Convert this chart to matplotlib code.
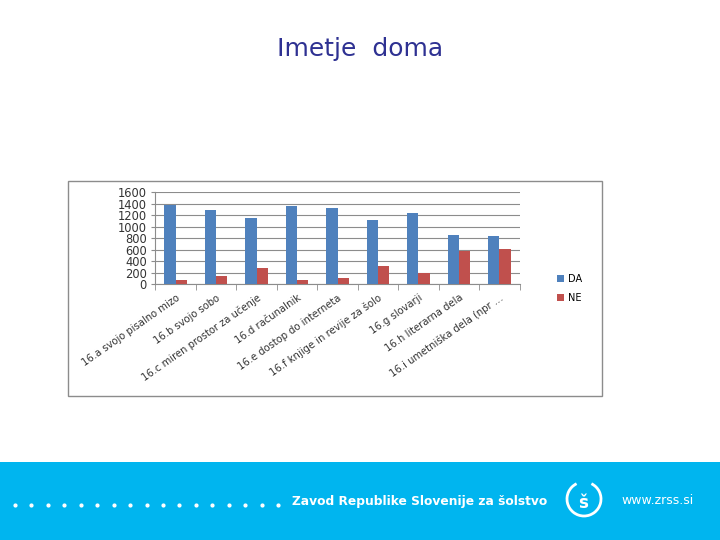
import numpy as np
import matplotlib.pyplot as plt
from matplotlib.patches import Rectangle, Arc

# podatki
categories = [
    "16.a svojo pisalno mizo",
    "16.b svojo sobo",
    "16.c miren prostor za učenje",
    "16.d računalnik",
    "16.e dostop do interneta",
    "16.f knjige in revije za šolo",
    "16.g slovarji",
    "16.h literarna dela",
    "16.i umetniška dela (npr …",
]
da_values = [1380, 1293, 1150, 1362, 1328, 1120, 1241, 858, 841]
ne_values = [81, 145, 284, 81, 110, 319, 197, 580, 614]
y_ticks = [0, 200, 400, 600, 800, 1000, 1200, 1400, 1600]

W, H = 720, 540
fig = plt.figure(figsize=(7.2, 5.4), dpi=100)
fig.patch.set_facecolor("white")

# naslov
fig.text(360 / W, 1 - 49 / H, "Imetje  doma", ha="center", va="center",
         fontsize=18, color="#2E3192", fontfamily="DejaVu Sans")

# okvir grafa
fig.patches.append(Rectangle((68 / W, 1 - 396 / H), 534 / W, 215 / H,
                             transform=fig.transFigure, fill=False,
                             edgecolor="#8C8C8C", linewidth=1))

ax = fig.add_axes([155.3 / W, 1 - 284.3 / H, (519.7 - 155.3) / W, (284.3 - 192.3) / H])
x = np.arange(len(categories))
bw = 0.28
ax.bar(x - bw / 2, da_values, bw, color="#4F81BD", label="DA", zorder=3)
ax.bar(x + bw / 2, ne_values, bw, color="#C0504D", label="NE", zorder=3)

ax.set_xlim(-0.5, len(categories) - 0.5)
ax.set_ylim(0, 1600)
ax.set_yticks(y_ticks)
ax.set_yticklabels([str(v) for v in y_ticks], fontsize=8.3, color="#333333")
ax.yaxis.grid(True, color="#8C8C8C", linewidth=0.8, zorder=0)
ax.set_axisbelow(True)

ax.set_xticks(x)
ax.set_xticklabels(categories, rotation=35, ha="right", rotation_mode="anchor",
                   fontsize=7.2, color="#333333")
ax.set_xticks(np.arange(-0.5, len(categories)), minor=True)
ax.tick_params(axis="x", which="major", length=0, pad=6)
ax.tick_params(axis="x", which="minor", length=4, color="#8C8C8C")
ax.tick_params(axis="y", length=3, color="#8C8C8C", pad=3)

for s in ["top", "right"]:
    ax.spines[s].set_visible(False)
for s in ["left", "bottom"]:
    ax.spines[s].set_color("#8C8C8C")
    ax.spines[s].set_linewidth(0.8)

ax.legend(loc="center left", bbox_to_anchor=(548 / W, 1 - 288.5 / H),
          bbox_transform=fig.transFigure, frameon=False, fontsize=7,
          handlelength=0.7, handleheight=0.7, handletextpad=0.5, labelspacing=0.9)

# noga
fig.patches.append(Rectangle((0, 0), 1, 78 / H, transform=fig.transFigure,
                             facecolor="#00B5EF", edgecolor="none"))
dot_x = np.linspace(15, 278, 17) / W
fig.lines.append(plt.Line2D(dot_x, np.full(len(dot_x), 1 - 505 / H),
                            transform=fig.transFigure, linestyle="none",
                            marker="o", markersize=2, color="white"))
fig.text(292 / W, 1 - 501 / H, "Zavod Republike Slovenije za šolstvo",
         ha="left", va="center", fontsize=8.8, fontweight="bold", color="white",
         fontfamily="DejaVu Sans")
fig.patches.append(Arc((584 / W, 1 - 499 / H), 34 / W, 34 / H, theta1=110, theta2=430,
                       transform=fig.transFigure, color="white", linewidth=2))
fig.text(583 / W, 1 - 503 / H, "š", ha="center", va="center", fontsize=12,
         fontweight="bold", color="white")
fig.text(621 / W, 1 - 501 / H, "www.zrss.si", ha="left", va="center",
         fontsize=9, color="white", fontfamily="DejaVu Sans")

fig.savefig("out.png", dpi=100)
